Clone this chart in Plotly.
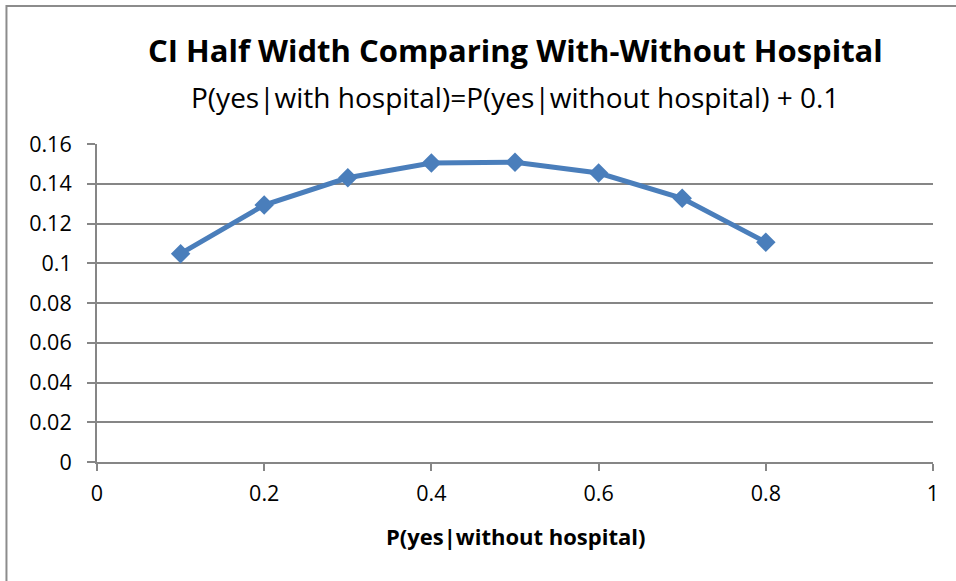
import plotly.graph_objects as go

x_vals = [0.1, 0.2, 0.3, 0.4, 0.5, 0.6, 0.7, 0.8]
y_vals = [0.1048, 0.1293, 0.1430, 0.1504, 0.1508, 0.1454, 0.1327, 0.1106]
x_ticks = [0, 0.2, 0.4, 0.6, 0.8, 1]
x_tick_labels = ["0", "0.2", "0.4", "0.6", "0.8", "1"]
y_ticks = [0, 0.02, 0.04, 0.06, 0.08, 0.1, 0.12, 0.14, 0.16]
y_tick_labels = ["0", "0.02", "0.04", "0.06", "0.08", "0.1", "0.12", "0.14", "0.16"]

title_text = "CI Half Width Comparing With-Without Hospital"
subtitle_text = "P(yes|with hospital)=P(yes|without hospital) + 0.1"
x_title = "P(yes|without hospital)"

FONT = "Open Sans, sans-serif"
grid_col = "#868686"

fig = go.Figure()
fig.add_trace(go.Scatter(
    x=x_vals, y=y_vals, mode="lines+markers",
    line=dict(color="#4A7EBB", width=5),
    marker=dict(symbol="diamond", size=15, color="#4A7EBB"),
    showlegend=False,
))

fig.update_layout(
    width=956, height=581,
    margin=dict(l=97, r=23, t=144, b=119),
    paper_bgcolor="white", plot_bgcolor="white",
    font=dict(family=FONT, size=21, color="black"),
    annotations=[
        dict(text="<b>" + title_text + "</b>", xref="paper", yref="paper",
             x=0.5, y=1.2956, xanchor="center", yanchor="middle", showarrow=False,
             font=dict(family=FONT, size=31, color="black")),
        dict(text=subtitle_text, xref="paper", yref="paper",
             x=0.5, y=1.1478, xanchor="center", yanchor="middle", showarrow=False,
             font=dict(family=FONT, size=28, color="black")),
        dict(text="<b>" + x_title + "</b>", xref="paper", yref="paper",
             x=0.5, y=-0.2327, xanchor="center", yanchor="middle", showarrow=False,
             font=dict(family=FONT, size=22, color="black")),
    ],
    shapes=[
        dict(type="rect", xref="paper", yref="paper",
             x0=-0.1083, x1=1.5, y0=-1.0, y1=1.434,
             line=dict(color="#8c8c8c", width=2), layer="below"),
    ],
)

fig.update_xaxes(
    range=[0, 1], tickvals=x_ticks, ticktext=x_tick_labels,
    showgrid=False, zeroline=False,
    showline=True, linecolor=grid_col, linewidth=2,
    ticks="outside", tickcolor=grid_col, ticklen=7, tickwidth=2,
    tickfont=dict(family=FONT, size=21.5), ticklabelstandoff=4,
)
fig.update_yaxes(
    range=[0, 0.16], tickvals=y_ticks, ticktext=y_tick_labels,
    showgrid=True, gridcolor=grid_col, gridwidth=2, zeroline=False,
    showline=True, linecolor=grid_col, linewidth=2,
    ticks="outside", tickcolor=grid_col, ticklen=8, tickwidth=2,
    tickfont=dict(family=FONT, size=21.5), ticklabelstandoff=11,
)

fig.write_html("out.html", config={"displayModeBar": False},
               post_script="document.body.style.margin='0';")
